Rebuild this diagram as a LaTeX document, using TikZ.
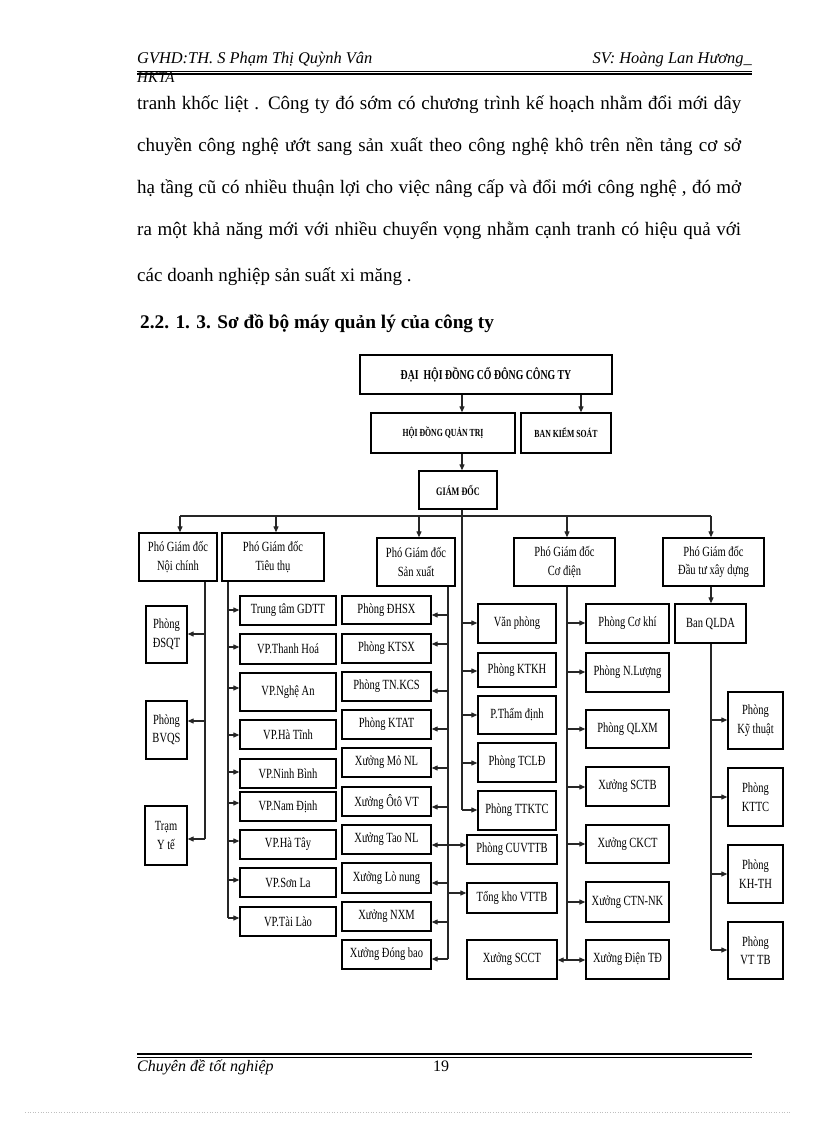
\documentclass[tikz,border=0pt]{standalone}
\usepackage{fontspec}
\setmainfont{Liberation Serif}
\newfontfamily\chartfont[FakeStretch=0.75]{Liberation Serif}
\newfontfamily\titlefont[FakeStretch=0.72]{Liberation Serif}
\usetikzlibrary{arrows.meta}
\tikzset{
  bx/.style={draw=black, line width=1.3pt, align=center, inner sep=0pt,
             font=\chartfont\fontsize{14}{18.5}\selectfont},
  ttlA/.style={font=\titlefont\bfseries\fontsize{13.6}{15}\selectfont},
  ttlB/.style={font=\titlefont\bfseries\fontsize{10.8}{12}\selectfont},
  ttlC/.style={font=\titlefont\bfseries\fontsize{11.4}{12}\selectfont},
  ln/.style={draw=black!85, line width=1.1pt},
  arr/.style={ln, -{Triangle[length=6pt,width=5pt]}},
  darr/.style={ln, {Triangle[length=6pt,width=5pt]}-{Triangle[length=6pt,width=5pt]}},
  txt/.style={anchor=base west, inner sep=0pt},
  rule/.style={draw=black}
}
\newcommand\bx[7][]{\node[bx,#1,minimum width={(#5-#3)*1pt},minimum height={(#6-#4)*1pt}] (#2) at ({(#3+#5)/2},{(#4+#6)/2}) {#7};}
\newcommand\br[4]{\coordinate (s#1) at (#2,#3); \draw[arr] (s#1) -- (s#1 -| #1.#4);}
\begin{document}
\begin{tikzpicture}[x=1pt,y=-1pt]
\useasboundingbox[fill=white] (0,0) rectangle (816,1123);

% ---------- header ----------
\node[txt, font=\itshape\fontsize{16.4}{18}\selectfont] (hl) at (137,64) {GVHD:TH. S Phạm Thị Quỳnh Vân};
\node[anchor=base east, inner sep=0pt, font=\itshape\fontsize{16.4}{18}\selectfont] (hr) at (752,64) {SV: Hoàng Lan Hương\_};
\coordinate (hA) at (137,71.5); \coordinate (hB) at (752,71.5);
\coordinate (hC) at (137,74.3); \coordinate (hD) at (752,74.3);
\draw[rule, line width=0.8pt] (hA) -- (hB);
\draw[rule, line width=1.6pt] (hC) -- (hD);
\node[txt, font=\itshape\fontsize{15}{18}\selectfont] (hk) at (137,83) {HKTA};

% ---------- body text ----------
\node[txt, font=\fontsize{19}{22}\selectfont] (l1) at (137,110) {\makebox[604pt][s]{tranh khốc liệt . Công ty đó sớm có chương trình kế hoạch nhằm đổi mới dây}};
\node[txt, font=\fontsize{19}{22}\selectfont] (l2) at (137,152) {\makebox[604pt][s]{chuyền công nghệ ướt sang sản xuất theo công nghệ khô trên nền tảng cơ sở}};
\node[txt, font=\fontsize{19}{22}\selectfont] (l3) at (137,194) {\makebox[604pt][s]{hạ tầng cũ có nhiều thuận lợi cho việc nâng cấp và đổi mới công nghệ , đó mở}};
\node[txt, font=\fontsize{19}{22}\selectfont] (l4) at (137,236) {\makebox[604pt][s]{ra một khả năng mới với nhiều chuyển vọng nhằm cạnh tranh có hiệu quả với}};
\node[txt, font=\fontsize{19}{22}\selectfont] (l5) at (137,281) {các doanh nghiệp sản suất xi măng .};
\node[txt, font=\bfseries\fontsize{19.3}{22}\selectfont] (hd) at (140,328) {2.2. 1. 3. Sơ đồ bộ máy quản lý của công ty};

% ---------- top of chart ----------
\bx[ttlA]{dh}{360}{355}{612}{394}{ĐẠI\ \ HỘI ĐỒNG CỔ ĐÔNG CÔNG TY}
\bx[ttlB]{hdqt}{371}{413}{515}{453}{HỘI ĐỒNG QUẢN TRỊ}
\bx[ttlB]{bks}{521}{413}{611}{453}{BAN KIỂM SOÁT}
\bx[ttlC]{gd}{419}{471}{497}{509}{GIÁM ĐỐC}
\coordinate (cA) at (462,0); \coordinate (cB) at (581,0);
\draw[arr] (dh.south -| cA) -- (hdqt.north -| cA);
\draw[arr] (dh.south -| cB) -- (bks.north -| cB);
\draw[arr] (hdqt.south -| cA) -- (gd.north -| cA);

% ---------- deputy directors ----------
\bx{pnc}{139}{533}{217}{581}{Phó Giám đốc\\Nội chính}
\bx{ptt}{222}{533}{324}{581}{Phó Giám đốc\\Tiêu thụ}
\bx{psx}{377}{538}{455}{586}{Phó Giám đốc\\Sản xuất}
\bx{pcd}{514}{538}{615}{586}{Phó Giám đốc\\Cơ điện}
\bx{pdt}{663}{538}{764}{586}{Phó Giám đốc\\Đầu tư xây dựng}

\coordinate (bNC) at (180,516); \coordinate (bTT) at (276,516);
\coordinate (bSX) at (419,516); \coordinate (bCD) at (567,516);
\coordinate (bDT) at (711,516);
\draw[ln] (bNC) -- (bDT);
\draw[arr] (bNC) -- (bNC |- pnc.north);
\draw[arr] (bTT) -- (bTT |- ptt.north);
\draw[arr] (bSX) -- (bSX |- psx.north);
\draw[arr] (bCD) -- (bCD |- pcd.north);
\draw[arr] (bDT) -- (bDT |- pdt.north);

% ---------- Noi chinh ----------
\bx{dsqt}{146}{606}{187}{663}{Phòng\\ĐSQT}
\bx{bvqs}{146}{701}{187}{759}{Phòng\\BVQS}
\bx{tyt}{145}{806}{187}{865}{Trạm\\Y tế}
\br{dsqt}{205}{634}{east}
\br{bvqs}{205}{721}{east}
\br{tyt}{205}{839}{east}
\coordinate (tNC) at (205,0);
\draw[ln] (pnc.south -| tNC) -- (styt);

% ---------- Tieu thu ----------
\bx{gdtt}{240}{596}{336}{625}{Trung tâm GDTT}
\bx{vth}{240}{634}{336}{664}{VP.Thanh Hoá}
\bx{vna}{240}{673}{336}{711}{VP.Nghệ An}
\bx{vht}{240}{720}{336}{749}{VP.Hà Tĩnh}
\bx{vnb}{240}{759}{336}{788}{VP.Ninh Bình}
\bx{vnd}{240}{792}{336}{821}{VP.Nam Định}
\bx{vhy}{240}{830}{336}{859}{VP.Hà Tây}
\bx{vsl}{240}{868}{336}{897}{VP.Sơn La}
\bx{vtl}{240}{907}{336}{936}{VP.Tài Lào}
\br{gdtt}{228}{610}{west}
\br{vth}{228}{647}{west}
\br{vna}{228}{688}{west}
\br{vht}{228}{735}{west}
\br{vnb}{228}{772}{west}
\br{vnd}{228}{803}{west}
\br{vhy}{228}{841}{west}
\br{vsl}{228}{880}{west}
\br{vtl}{228}{918}{west}
\coordinate (tTT) at (228,0);
\draw[ln] (ptt.south -| tTT) -- (svtl);

% ---------- San xuat ----------
\bx{dhsx}{342}{596}{431}{624}{Phòng ĐHSX}
\bx{ktsx}{342}{634}{431}{663}{Phòng KTSX}
\bx{tnkcs}{342}{672}{431}{701}{Phòng TN.KCS}
\bx{ktat}{342}{710}{431}{739}{Phòng KTAT}
\bx{mnl}{342}{748}{431}{777}{Xưởng Mỏ NL}
\bx{otvt}{342}{787}{431}{816}{Xưởng Ôtô VT}
\bx{tnl}{342}{825}{431}{854}{Xưởng Tao NL}
\bx{lnu}{342}{863}{431}{893}{Xưởng Lò nung}
\bx{nxm}{342}{902}{431}{931}{Xưởng NXM}
\bx{dbao}{342}{940}{431}{969}{Xưởng Đóng bao}
\br{dhsx}{448}{615}{east}
\br{ktsx}{448}{644}{east}
\br{tnkcs}{448}{691}{east}
\br{ktat}{448}{729}{east}
\br{mnl}{448}{768}{east}
\br{otvt}{448}{807}{east}
\br{lnu}{448}{883}{east}
\br{nxm}{448}{922}{east}
\br{dbao}{448}{959}{east}
\coordinate (tSX) at (448,0);
\draw[ln] (psx.south -| tSX) -- (sdbao);

% ---------- middle (Giam doc) ----------
\bx{vpg}{478}{604}{556}{643}{Văn phòng}
\bx{ktkh}{478}{653}{556}{687}{Phòng KTKH}
\bx{tdinh}{478}{696}{556}{734}{P.Thẩm định}
\bx{tcld}{478}{743}{556}{782}{Phòng TCLĐ}
\bx{ttktc}{478}{791}{556}{830}{Phòng TTKTC}
\bx{cuv}{467}{835}{557}{864}{Phòng CUVTTB}
\bx{tkho}{467}{883}{557}{913}{Tổng kho VTTB}
\bx{scct}{467}{940}{557}{979}{Xưởng SCCT}
\br{vpg}{462}{623}{west}
\br{ktkh}{462}{671}{west}
\br{tdinh}{462}{715}{west}
\br{tcld}{462}{763}{west}
\br{ttktc}{462}{810}{west}
\coordinate (tGD) at (462,0);
\draw[ln] (gd.south -| tGD) -- (sttktc);
\coordinate (ycuv) at (0,845);
\draw[darr] (tnl.east |- ycuv) -- (cuv.west |- ycuv);
\br{tkho}{448}{893}{west}
\br{scct}{567}{960}{east}

% ---------- Co dien ----------
\bx{ckh}{586}{604}{669}{643}{Phòng Cơ khí}
\bx{nlg}{586}{653}{669}{692}{Phòng N.Lượng}
\bx{qlxm}{586}{710}{669}{748}{Phòng QLXM}
\bx{sctb}{586}{767}{669}{806}{Xưởng SCTB}
\bx{ckct}{586}{825}{669}{863}{Xưởng CKCT}
\bx{ctn}{586}{882}{669}{922}{Xưởng CTN-NK}
\bx{dtd}{586}{940}{669}{979}{Xưởng Điện TĐ}
\br{ckh}{567}{623}{west}
\br{nlg}{567}{672}{west}
\br{qlxm}{567}{729}{west}
\br{sctb}{567}{787}{west}
\br{ckct}{567}{844}{west}
\br{ctn}{567}{902}{west}
\br{dtd}{567}{960}{west}
\coordinate (tCD) at (567,0);
\draw[ln] (pcd.south -| tCD) -- (sdtd);

% ---------- Dau tu xay dung ----------
\bx{qlda}{675}{604}{746}{643}{Ban QLDA}
\coordinate (tDT) at (711,0);
\draw[arr] (pdt.south -| tDT) -- (qlda.north -| tDT);
\bx{pkt}{728}{692}{783}{749}{Phòng\\Kỹ thuật}
\bx{pkttc}{728}{768}{783}{826}{Phòng\\KTTC}
\bx{pkhth}{728}{845}{783}{903}{Phòng\\KH-TH}
\bx{pvttb}{728}{922}{783}{979}{Phòng\\VT TB}
\br{pkt}{711}{720}{west}
\br{pkttc}{711}{797}{west}
\br{pkhth}{711}{874}{west}
\br{pvttb}{711}{950}{west}
\draw[ln] (qlda.south -| tDT) -- (spvttb);

% ---------- footer ----------
\coordinate (fA) at (137,1054); \coordinate (fB) at (752,1054);
\coordinate (fC) at (137,1057); \coordinate (fD) at (752,1057);
\draw[rule, line width=1.6pt] (fA) -- (fB);
\draw[rule, line width=0.8pt] (fC) -- (fD);
\node[txt, font=\itshape\fontsize{16}{18}\selectfont] (ft) at (137,1071) {Chuyên đề tốt nghiệp};
\node[anchor=base, inner sep=0pt, font=\fontsize{16}{18}\selectfont] (pg) at (441,1071) {19};
\coordinate (dA) at (25,1112); \coordinate (dB) at (790,1112);
\draw[black!25, dotted, line width=0.6pt] (dA) -- (dB);
\end{tikzpicture}
\end{document}
